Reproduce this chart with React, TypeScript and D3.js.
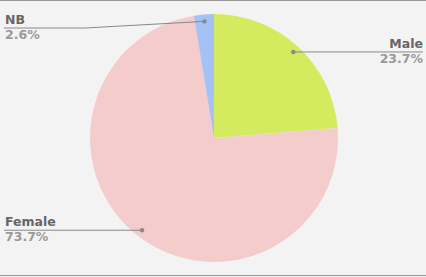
import React from "react";
import * as d3 from "d3";

const categories = ["Male", "Female", "NB"];
const values = [23.7, 73.7, 2.6];
const colors = ["#d4eb5f", "#f4cccc", "#a4c2f4"];
const percentLabels = ["23.7%", "73.7%", "2.6%"];

const W = 426;
const H = 277;

export default function App() {
  const cx = 214;
  const cy = 138;
  const R = 124;
  const pie = d3.pie<number>().sort(null).value((d) => d)(values);
  const arc = d3.arc<d3.PieArcDatum<number>>().innerRadius(0).outerRadius(R);
  const dotArc = d3.arc<d3.PieArcDatum<number>>().innerRadius(117).outerRadius(117);

  return (
    <svg
      width={W}
      height={H}
      style={{ position: "absolute", left: 0, top: 0, display: "block" }}
    >
      <rect x={0} y={0} width={W} height={H} fill="#f3f3f3" />
      <line x1={0} x2={W} y1={0.5} y2={0.5} stroke="#999" strokeWidth={1} />
      <line x1={0} x2={W} y1={275.5} y2={275.5} stroke="#999" strokeWidth={1} />
      <g transform={`translate(${cx},${cy})`}>
        {pie.map((p, i) => (
          <path key={i} d={arc(p) || ""} fill={colors[i]} />
        ))}
      </g>
      {pie.map((p, i) => {
        const [dx, dy] = dotArc.centroid(p);
        const px = cx + dx;
        const py = cy + dy;
        const right = px > cx;
        const ly = Math.max(py, 28);
        const elbowX = right ? 343 : 85;
        const endX = right ? 423 : 4;
        const tx = right ? 423 : 5;
        const anchor = right ? "end" : "start";
        return (
          <g key={i}>
            <polyline
              points={`${px},${py} ${elbowX},${ly} ${endX},${ly}`}
              fill="none"
              stroke="#888"
              strokeWidth={1}
            />
            <circle cx={px} cy={py} r={2.2} fill="#888" />
            <text
              x={tx}
              y={ly - 4}
              textAnchor={anchor}
              fontFamily="DejaVu Sans"
              fontWeight="bold"
              fontSize={12.5}
              fill="#666"
            >
              {categories[i]}
            </text>
            <text
              x={tx}
              y={ly + 11}
              textAnchor={anchor}
              fontFamily="DejaVu Sans"
              fontWeight="bold"
              fontSize={12.5}
              fill="#999"
            >
              {percentLabels[i]}
            </text>
          </g>
        );
      })}
    </svg>
  );
}
